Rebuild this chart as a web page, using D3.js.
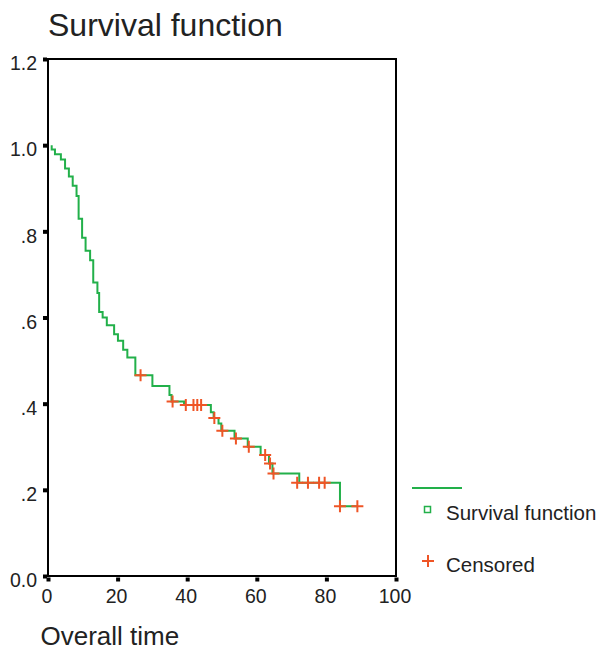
<!DOCTYPE html>
<html>
<head>
  <meta charset="utf-8">
  <title>Survival function</title>
  <style type="text/css">
    body {
        margin: 0;
        background: white;
    }
    text {
        font-family: "Liberation Sans", Arial, sans-serif;
        fill: #222;
    }
    .tick text {
        font-size: 19.5px;
    }
    .domain {
        display: none;
    }
  </style>
</head>
<body>
<script src="https://cdnjs.cloudflare.com/ajax/libs/d3/7.8.5/d3.min.js"></script>
<script>
// event times (deaths) and the survival level just after each one
var eventTimes = [1.06, 2.0, 3.7, 4.9, 6.0, 7.1, 8.2, 8.8, 9.8, 10.8, 12.1, 13.0, 14.2, 14.7, 15.7, 16.9,
                  19.0, 20.1, 21.6, 22.8, 25.1, 30.0, 34.9, 35.5, 39.1, 46.8, 47.6, 49.0, 49.8, 53.6,
                  57.4, 61.1, 63.5, 64.5, 72.2, 83.9];
var survival = [0.990, 0.979, 0.967, 0.946, 0.927, 0.906, 0.882, 0.829, 0.785, 0.755, 0.733, 0.681,
                0.657, 0.613, 0.600, 0.582, 0.561, 0.546, 0.525, 0.507, 0.466, 0.441, 0.420, 0.405,
                0.397, 0.380, 0.367, 0.354, 0.337, 0.319, 0.300, 0.281, 0.261, 0.238, 0.2165, 0.162];
var startTime = 1.06, lastTime = 88.9;

// censored cases
var censorTimes = [26.6, 35.8, 39.6, 41.8, 42.9, 44.0, 47.8, 50.1, 54.0, 57.7, 62.4, 63.8, 64.8,
                   71.6, 74.7, 77.9, 79.5, 83.9, 88.9];
var censorSurv = [0.466, 0.405, 0.397, 0.397, 0.397, 0.397, 0.367, 0.337, 0.319, 0.300, 0.281,
                  0.261, 0.238, 0.2165, 0.2165, 0.2165, 0.2165, 0.162, 0.162];

var xTicks = [0, 20, 40, 60, 80, 100];
var yTicks = [0, 0.2, 0.4, 0.6, 0.8, 1.0, 1.2];
var yTickLabels = ['0.0', '.2', '.4', '.6', '.8', '1.0', '1.2'];

var green = '#22b04a', red = '#ef5526';

var svg = d3.select('body').append('svg')
  .attr('width', 602)
  .attr('height', 652);

var x = d3.scaleLinear().domain([0, 100]).range([48, 396]);
var y = d3.scaleLinear().domain([0, 1.2]).range([576, 59]);

// title
svg.append('text')
  .attr('x', 48).attr('y', 36)
  .style('font-size', '32px')
  .text('Survival function');

// y axis
var yAxis = svg.append('g')
  .attr('transform', 'translate(48,0)')
  .call(d3.axisLeft(y).tickValues(yTicks).tickSize(0).tickPadding(11)
    .tickFormat(function(d, i){ return yTickLabels[i]; }));
yAxis.selectAll('.tick text').attr('dy', '0.86em').attr('y', -6);
yAxis.selectAll('.tick').append('rect')
  .attr('x', -5).attr('y', -2).attr('width', 4).attr('height', 4).attr('fill', 'black');

// x axis
var xAxis = svg.append('g')
  .attr('transform', 'translate(0,576)')
  .call(d3.axisBottom(x).tickValues(xTicks).tickSize(0).tickPadding(13));
xAxis.selectAll('.tick text').attr('dx', '-1.5');
xAxis.selectAll('.tick').append('rect')
  .attr('x', -2).attr('y', 1.5).attr('width', 4).attr('height', 4).attr('fill', 'black');

// frame
svg.append('rect')
  .attr('x', x(0)).attr('y', y(1.2))
  .attr('width', x(100) - x(0)).attr('height', y(0) - y(1.2))
  .attr('fill', 'none').attr('stroke', 'black').attr('stroke-width', 2);

// axis title
svg.append('text')
  .attr('x', 40.5).attr('y', 645)
  .style('font-size', '26px')
  .text('Overall time');

// survival step line
var pts = [[startTime, 1.0]];
eventTimes.forEach(function(t, i){ pts.push([t, survival[i]]); });
pts.push([lastTime, survival[survival.length - 1]]);

var line = d3.line()
  .x(function(d){ return x(d[0]); })
  .y(function(d){ return y(d[1]); })
  .curve(d3.curveStepAfter);

svg.append('path')
  .attr('d', line(pts))
  .attr('fill', 'none')
  .attr('stroke', green)
  .attr('stroke-width', 2);

// censor marks
function plus(g, cx, cy){
  g.append('path')
    .attr('d', 'M' + (cx - 6) + ' ' + cy + 'H' + (cx + 6) + 'M' + cx + ' ' + (cy - 6) + 'V' + (cy + 6))
    .attr('stroke', red).attr('stroke-width', 2).attr('fill', 'none');
}
var cg = svg.append('g');
censorTimes.forEach(function(t, i){ plus(cg, x(t), y(censorSurv[i])); });

// legend
var lg = svg.append('g');
lg.append('line')
  .attr('x1', 412).attr('x2', 462).attr('y1', 488).attr('y2', 488)
  .attr('stroke', green).attr('stroke-width', 2);
lg.append('rect')
  .attr('x', 424.5).attr('y', 506.5).attr('width', 6).attr('height', 6)
  .attr('fill', 'white').attr('stroke', green).attr('stroke-width', 1.5);
lg.append('text')
  .attr('x', 446).attr('y', 520)
  .style('font-size', '20.5px')
  .text('Survival function');
plus(lg, 428, 561);
lg.append('text')
  .attr('x', 446).attr('y', 572)
  .style('font-size', '20.5px')
  .text('Censored');
</script>
</body>
</html>
